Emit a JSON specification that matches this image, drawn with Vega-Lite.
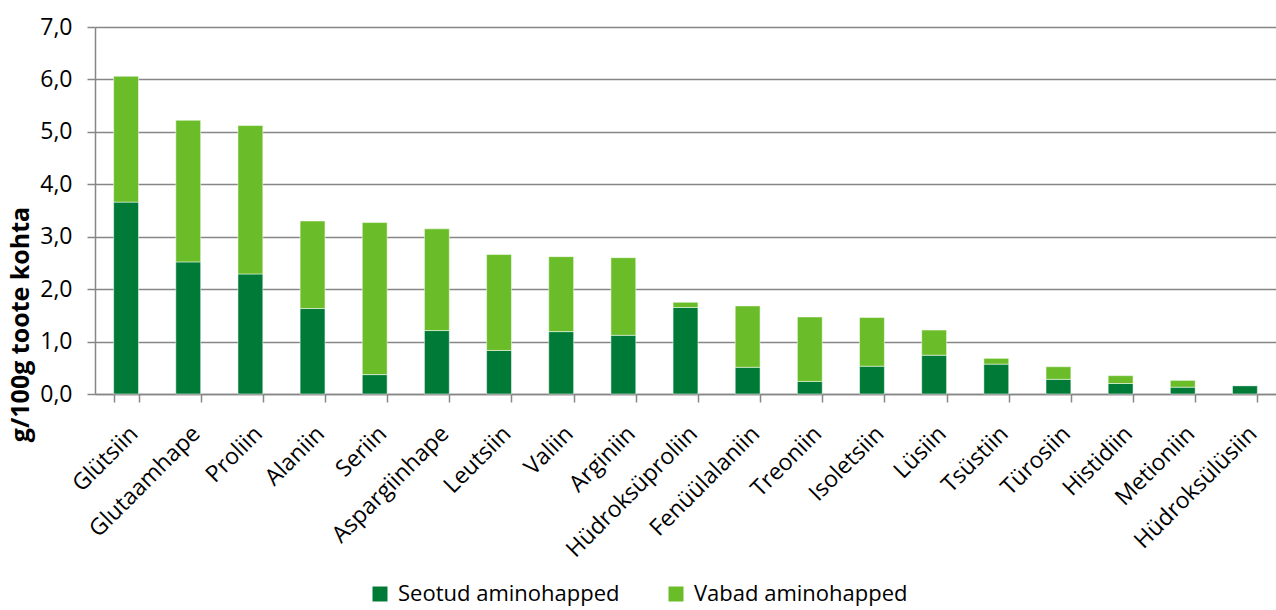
{
  "$schema": "https://vega.github.io/schema/vega-lite/v6.json",
  "autosize": {"type": "none"},
  "padding": {"left": 95, "top": 27, "right": 0, "bottom": 216},
  "width": 1181,
  "height": 367,
  "background": "white",
  "config": {
    "font": "Open Sans",
    "view": {"stroke": null}
  },
  "data": {
    "values": [
      {"aine": "Glütsiin", "tyyp": "Seotud aminohapped", "o": 1, "v": 3.66},
      {"aine": "Glütsiin", "tyyp": "Vabad aminohapped", "o": 2, "v": 2.40},
      {"aine": "Glutaamhape", "tyyp": "Seotud aminohapped", "o": 1, "v": 2.52},
      {"aine": "Glutaamhape", "tyyp": "Vabad aminohapped", "o": 2, "v": 2.70},
      {"aine": "Proliin", "tyyp": "Seotud aminohapped", "o": 1, "v": 2.29},
      {"aine": "Proliin", "tyyp": "Vabad aminohapped", "o": 2, "v": 2.83},
      {"aine": "Alaniin", "tyyp": "Seotud aminohapped", "o": 1, "v": 1.63},
      {"aine": "Alaniin", "tyyp": "Vabad aminohapped", "o": 2, "v": 1.67},
      {"aine": "Seriin", "tyyp": "Seotud aminohapped", "o": 1, "v": 0.37},
      {"aine": "Seriin", "tyyp": "Vabad aminohapped", "o": 2, "v": 2.90},
      {"aine": "Aspargiinhape", "tyyp": "Seotud aminohapped", "o": 1, "v": 1.21},
      {"aine": "Aspargiinhape", "tyyp": "Vabad aminohapped", "o": 2, "v": 1.94},
      {"aine": "Leutsiin", "tyyp": "Seotud aminohapped", "o": 1, "v": 0.83},
      {"aine": "Leutsiin", "tyyp": "Vabad aminohapped", "o": 2, "v": 1.83},
      {"aine": "Valiin", "tyyp": "Seotud aminohapped", "o": 1, "v": 1.19},
      {"aine": "Valiin", "tyyp": "Vabad aminohapped", "o": 2, "v": 1.43},
      {"aine": "Arginiin", "tyyp": "Seotud aminohapped", "o": 1, "v": 1.12},
      {"aine": "Arginiin", "tyyp": "Vabad aminohapped", "o": 2, "v": 1.48},
      {"aine": "Hüdroksüproliin", "tyyp": "Seotud aminohapped", "o": 1, "v": 1.65},
      {"aine": "Hüdroksüproliin", "tyyp": "Vabad aminohapped", "o": 2, "v": 0.10},
      {"aine": "Fenüülalaniin", "tyyp": "Seotud aminohapped", "o": 1, "v": 0.51},
      {"aine": "Fenüülalaniin", "tyyp": "Vabad aminohapped", "o": 2, "v": 1.17},
      {"aine": "Treoniin", "tyyp": "Seotud aminohapped", "o": 1, "v": 0.24},
      {"aine": "Treoniin", "tyyp": "Vabad aminohapped", "o": 2, "v": 1.23},
      {"aine": "Isoletsiin", "tyyp": "Seotud aminohapped", "o": 1, "v": 0.53},
      {"aine": "Isoletsiin", "tyyp": "Vabad aminohapped", "o": 2, "v": 0.93},
      {"aine": "Lüsiin", "tyyp": "Seotud aminohapped", "o": 1, "v": 0.74},
      {"aine": "Lüsiin", "tyyp": "Vabad aminohapped", "o": 2, "v": 0.48},
      {"aine": "Tsüstiin", "tyyp": "Seotud aminohapped", "o": 1, "v": 0.57},
      {"aine": "Tsüstiin", "tyyp": "Vabad aminohapped", "o": 2, "v": 0.11},
      {"aine": "Türosiin", "tyyp": "Seotud aminohapped", "o": 1, "v": 0.28},
      {"aine": "Türosiin", "tyyp": "Vabad aminohapped", "o": 2, "v": 0.24},
      {"aine": "Histidiin", "tyyp": "Seotud aminohapped", "o": 1, "v": 0.20},
      {"aine": "Histidiin", "tyyp": "Vabad aminohapped", "o": 2, "v": 0.15},
      {"aine": "Metioniin", "tyyp": "Seotud aminohapped", "o": 1, "v": 0.13},
      {"aine": "Metioniin", "tyyp": "Vabad aminohapped", "o": 2, "v": 0.13},
      {"aine": "Hüdroksülüsiin", "tyyp": "Seotud aminohapped", "o": 1, "v": 0.16},
      {"aine": "Hüdroksülüsiin", "tyyp": "Vabad aminohapped", "o": 2, "v": 0.0}
    ]
  },
  "mark": {"type": "bar", "stroke": "#ffffff", "strokeOpacity": 0.5, "strokeWidth": 1},
  "encoding": {
    "x": {
      "field": "aine",
      "type": "nominal",
      "sort": null,
      "scale": {"paddingInner": 0.6, "paddingOuter": 0.3},
      "axis": {
        "title": null,
        "labelAngle": -45,
        "labelAlign": "right",
        "labelBaseline": "top",
        "labelFontSize": 23,
        "labelColor": "#000000",
        "labelPadding": 20,
        "labelDx": -9,
        "labelLimit": 0,
        "tickBand": "extent",
        "tickColor": "#868686",
        "tickWidth": 1.5,
        "tickSize": 8,
        "domainColor": "#868686",
        "domainWidth": 1.5,
        "labelOverlap": false
      }
    },
    "y": {
      "field": "v",
      "type": "quantitative",
      "stack": "zero",
      "scale": {"domain": [0, 7], "nice": false},
      "axis": {
        "title": "g/100g toote kohta",
        "titleFontSize": 25,
        "titleFontWeight": "bold",
        "titleColor": "#000000",
        "titleAngle": -90,
        "titleAlign": "center",
        "titleBaseline": "alphabetic",
        "titleX": -67,
        "titleY": 297,
        "values": [0, 1, 2, 3, 4, 5, 6, 7],
        "labelExpr": "replace(format(datum.value, '.1f'), '.', ',')",
        "labelFontSize": 23,
        "labelColor": "#000000",
        "labelPadding": 15,
        "tickColor": "#868686",
        "tickWidth": 1.5,
        "tickSize": 8,
        "domainColor": "#868686",
        "domainWidth": 1.5,
        "grid": true,
        "gridColor": "#868686",
        "gridWidth": 1.5
      }
    },
    "color": {
      "field": "tyyp",
      "type": "nominal",
      "scale": {"domain": ["Seotud aminohapped", "Vabad aminohapped"], "range": ["#007A37", "#6ABD28"]},
      "legend": {
        "title": null,
        "orient": "none",
        "direction": "horizontal",
        "legendX": 274,
        "legendY": 556,
        "symbolType": "square",
        "symbolSize": 225,
        "symbolStrokeWidth": 0,
        "labelFontSize": 22,
        "labelLimit": 0,
        "labelColor": "#000000",
        "columnPadding": 45,
        "labelOffset": 7
      }
    },
    "order": {"field": "o", "type": "quantitative"}
  }
}
